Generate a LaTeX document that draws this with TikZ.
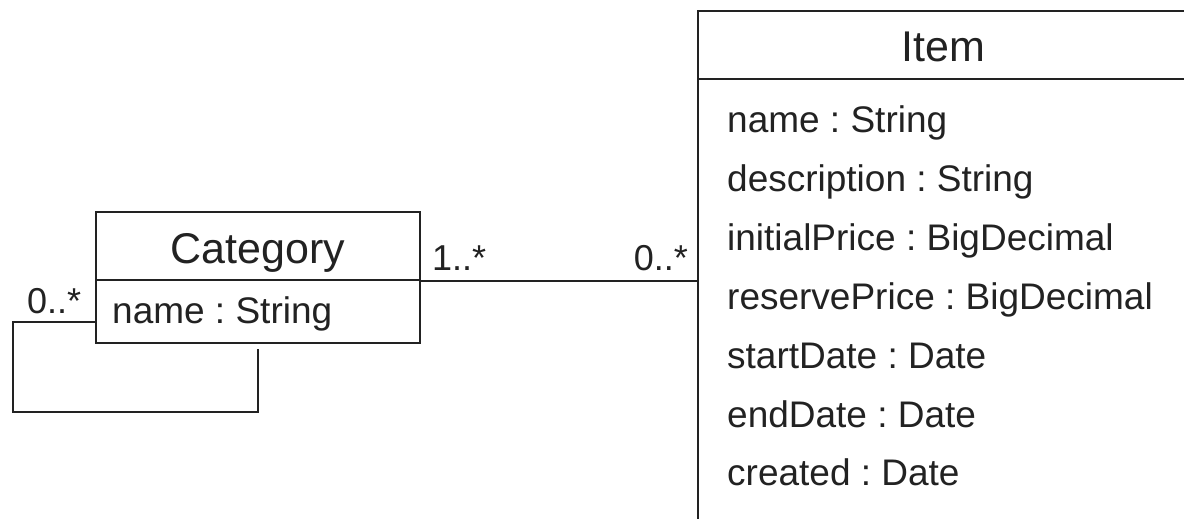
\documentclass[tikz,border=0pt]{standalone}
\usepackage{fontspec}
\setmainfont{Liberation Sans}
\definecolor{ink}{HTML}{222222}
\frenchspacing
\begin{document}
\begin{tikzpicture}[x=1pt,y=-1pt,
  ink line/.style={draw=ink, line width=2.4pt},
  classbox/.style={ink line, rectangle, inner sep=0pt},
  title/.style={font=\fontsize{43}{48}\selectfont, text=ink},
  attr/.style={anchor=base west, inner sep=0pt, font=\fontsize{37}{40}\selectfont, text=ink},
  mult/.style={inner sep=0pt, font=\fontsize{36}{40}\selectfont, text=ink},
]
\clip (0,0) rectangle (1184,519);
\fill[white] (0,0) rectangle (1184,519);

% Category class
\node[classbox, minimum width=324pt, minimum height=68pt] (cathead) at (258,246) {};
\node[classbox, minimum width=324pt, minimum height=63pt] (catbody) at (258,311.5) {};
\node[title, anchor=base] (cattitle) at (258,263) {Category};
\node[attr] (catname) at (112,323) {name : String};

% Item class (runs past the right and bottom edges)
\node[classbox, minimum width=490pt, minimum height=68pt] (itemhead) at (943,45) {};
\node[classbox, minimum width=490pt, minimum height=500pt] (itembody) at (943,329) {};
\node[title, anchor=base] (itemtitle) at (943,62) {Item};
\node[attr] (a1) at (727,132) {name : String};
\node[attr] (a2) at (727,191) {description : String};
\node[attr] (a3) at (727,250) {initialPrice : BigDecimal};
\node[attr] (a4) at (727,309) {reservePrice : BigDecimal};
\node[attr] (a5) at (727,368) {startDate : Date};
\node[attr] (a6) at (727,427) {endDate : Date};
\node[attr] (a7) at (727,485) {created : Date};

% Association Category -- Item
\draw[ink line] (cathead.south east) -- (itemhead.south west |- cathead.south east);
\node[mult, anchor=base west] (m1) at (432,270) {1..*};
\node[mult, anchor=base east] (m2) at (688,270) {0..*};

% Self association of Category
\coordinate (loopA) at (catbody.west |- 0,322);
\coordinate (loopB) at (258,349);
\draw[ink line] (loopA) -- (13,322) -- (13,412) -- (loopB |- 0,412) -- (loopB);
\node[mult, anchor=base west] (m3) at (27,313) {0..*};
\end{tikzpicture}
\end{document}
